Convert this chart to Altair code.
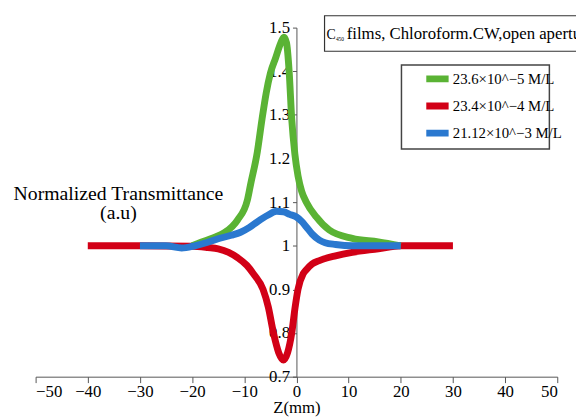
import altair as alt
import pandas as pd

# ---- data ----
series_names = ["23.6×10^−5 M/L", "23.4×10^−4 M/L", "21.12×10^−3 M/L"]
series_colors = ["#5ab334", "#d20016", "#2a78cf"]

z_green = [-20, -18.3, -16, -13.8, -11.3, -9.4, -8.8, -7.5, -6.6, -5.8, -5.0, -4.0, -3.0, -2.4,
           -1.9, -1.4, -0.9, -0.3, 0.3, 1.0, 1.9, 3.8, 6.3, 10.7, 15.7, 20]
t_green = [1.0, 1.008, 1.018, 1.03, 1.059, 1.105, 1.14, 1.215, 1.29, 1.35, 1.395, 1.43, 1.465, 1.478,
           1.465, 1.40, 1.29, 1.21, 1.16, 1.125, 1.10, 1.066, 1.036, 1.017, 1.009, 1.0]

z_red = [-40, -30, -20, -17, -15, -13, -11.3, -9.5, -8.2, -6.4, -5.4, -4.4, -3.4, -2.5, -1.7, -0.9,
         -0.3, 0.3, 1.3, 1.9, 3.0, 4.4, 7.5, 10.7, 15.7, 20, 30]
t_red = [1.0, 1.0, 0.999, 0.996, 0.993, 0.985, 0.973, 0.955, 0.935, 0.9, 0.86, 0.8, 0.755, 0.738,
         0.755, 0.8, 0.855, 0.9, 0.936, 0.945, 0.958, 0.966, 0.977, 0.985, 0.993, 1.0, 1.0]

z_blue = [-30, -25, -22, -19.5, -17, -15, -12.5, -10.7, -9, -7.5, -5.5, -3.8, -2.5, -1.3, 0, 1,
          1.9, 3.0, 4.4, 5.5, 7.5, 10.7, 15, 20]
t_blue = [1.0, 1.0, 0.995, 1.0, 1.008, 1.016, 1.024, 1.031, 1.042, 1.055, 1.07, 1.079, 1.078, 1.072,
          1.066, 1.056, 1.043, 1.027, 1.013, 1.007, 1.003, 1.0, 1.0, 1.0]

x_ticks = list(range(-50, 51, 10))
y_ticks = [0.7, 0.8, 0.9, 1.0, 1.1, 1.2, 1.3, 1.4, 1.5]

title_main = "C"
title_sub = "450"
title_rest = "films, Chloroform.CW,open aperture"

rows = []
# drawing order: red, green, blue (blue on top)
for name, zs, ts in [(series_names[1], z_red, t_red),
                     (series_names[0], z_green, t_green),
                     (series_names[2], z_blue, t_blue)]:
    for i, (z, t) in enumerate(zip(zs, ts)):
        rows.append({"series": name, "z": z, "t": t, "i": i})
df = pd.DataFrame(rows)

FONT = "Liberation Serif, Times New Roman, serif"
W, H = 529, 354

lines = alt.Chart(df).mark_line(strokeWidth=7, interpolate="monotone", strokeCap="butt").encode(
    x=alt.X("z:Q",
            scale=alt.Scale(domain=[-50, 50], nice=False),
            axis=alt.Axis(values=x_ticks, title="Z(mm)", grid=False,
                          domainColor="#555", tickColor="#555", tickSize=6,
                          labelFont=FONT, labelFontSize=17, labelColor="black", labelPadding=1,
                          titleFont=FONT, titleFontSize=17, titleFontWeight="normal",
                          titleColor="black", titlePadding=0)),
    y=alt.Y("t:Q",
            scale=alt.Scale(domain=[0.7, 1.5], nice=False, zero=False),
            axis=alt.Axis(values=y_ticks, format="~g", offset=-264.5, grid=False,
                          domainColor="#555", tickColor="#555", tickSize=4,
                          labelFont=FONT, labelFontSize=17, labelColor="black", labelPadding=3,
                          title=["Normalized Transmittance", "(a.u)"],
                          titleAngle=0, titleAlign="center", titleBaseline="alphabetic",
                          titleX=-181, titleY=174, titleLineHeight=20,
                          titleFont=FONT, titleFontSize=20, titleFontWeight="normal",
                          titleColor="black")),
    color=alt.Color("series:N",
                    scale=alt.Scale(domain=series_names, range=series_colors),
                    legend=alt.Legend(title=None, orient="none", legendX=371, legendY=45,
                                      symbolType="M-1.45,0H1.45", symbolSize=244,
                                      symbolStrokeWidth=7, clipHeight=14,
                                      symbolOffset=25, labelOffset=4,
                                      labelFont=FONT, labelFontSize=15, labelColor="black",
                                      rowPadding=12.5, padding=0)),
    order="i:Q",
)

box_df = pd.DataFrame({"a": [0]})
legend_box = alt.Chart(box_df).mark_rect(fill="white", stroke="#444", strokeWidth=1.5).encode(
    x=alt.value(371), x2=alt.value(521), y=alt.value(38), y2=alt.value(123))
box = alt.Chart(box_df).mark_rect(fill="white", stroke="#333", strokeWidth=1.2).encode(
    x=alt.value(293), x2=alt.value(600), y=alt.value(-12), y2=alt.value(24))
t1 = alt.Chart(box_df).mark_text(align="left", baseline="alphabetic", font=FONT, fontSize=14,
                                 color="black").encode(
    x=alt.value(295), y=alt.value(11.5), text=alt.value(title_main))
t2 = alt.Chart(box_df).mark_text(align="left", baseline="alphabetic", font=FONT, fontSize=5.5,
                                 color="black").encode(
    x=alt.value(304.5), y=alt.value(14), text=alt.value(title_sub))
t3 = alt.Chart(box_df).mark_text(align="left", baseline="alphabetic", font=FONT, fontSize=17,
                                 color="black").encode(
    x=alt.value(315.5), y=alt.value(11.5), text=alt.value(title_rest))

chart = alt.layer(lines, legend_box, box, t1, t2, t3).properties(
    width=W, height=H,
    padding={"left": 28, "top": 17, "right": 19, "bottom": 38},
    autosize=alt.AutoSizeParams(type="none"),
    background="white",
).configure_view(stroke=None)

chart.save("out.html", embed_options={"renderer": "svg", "actions": False})
